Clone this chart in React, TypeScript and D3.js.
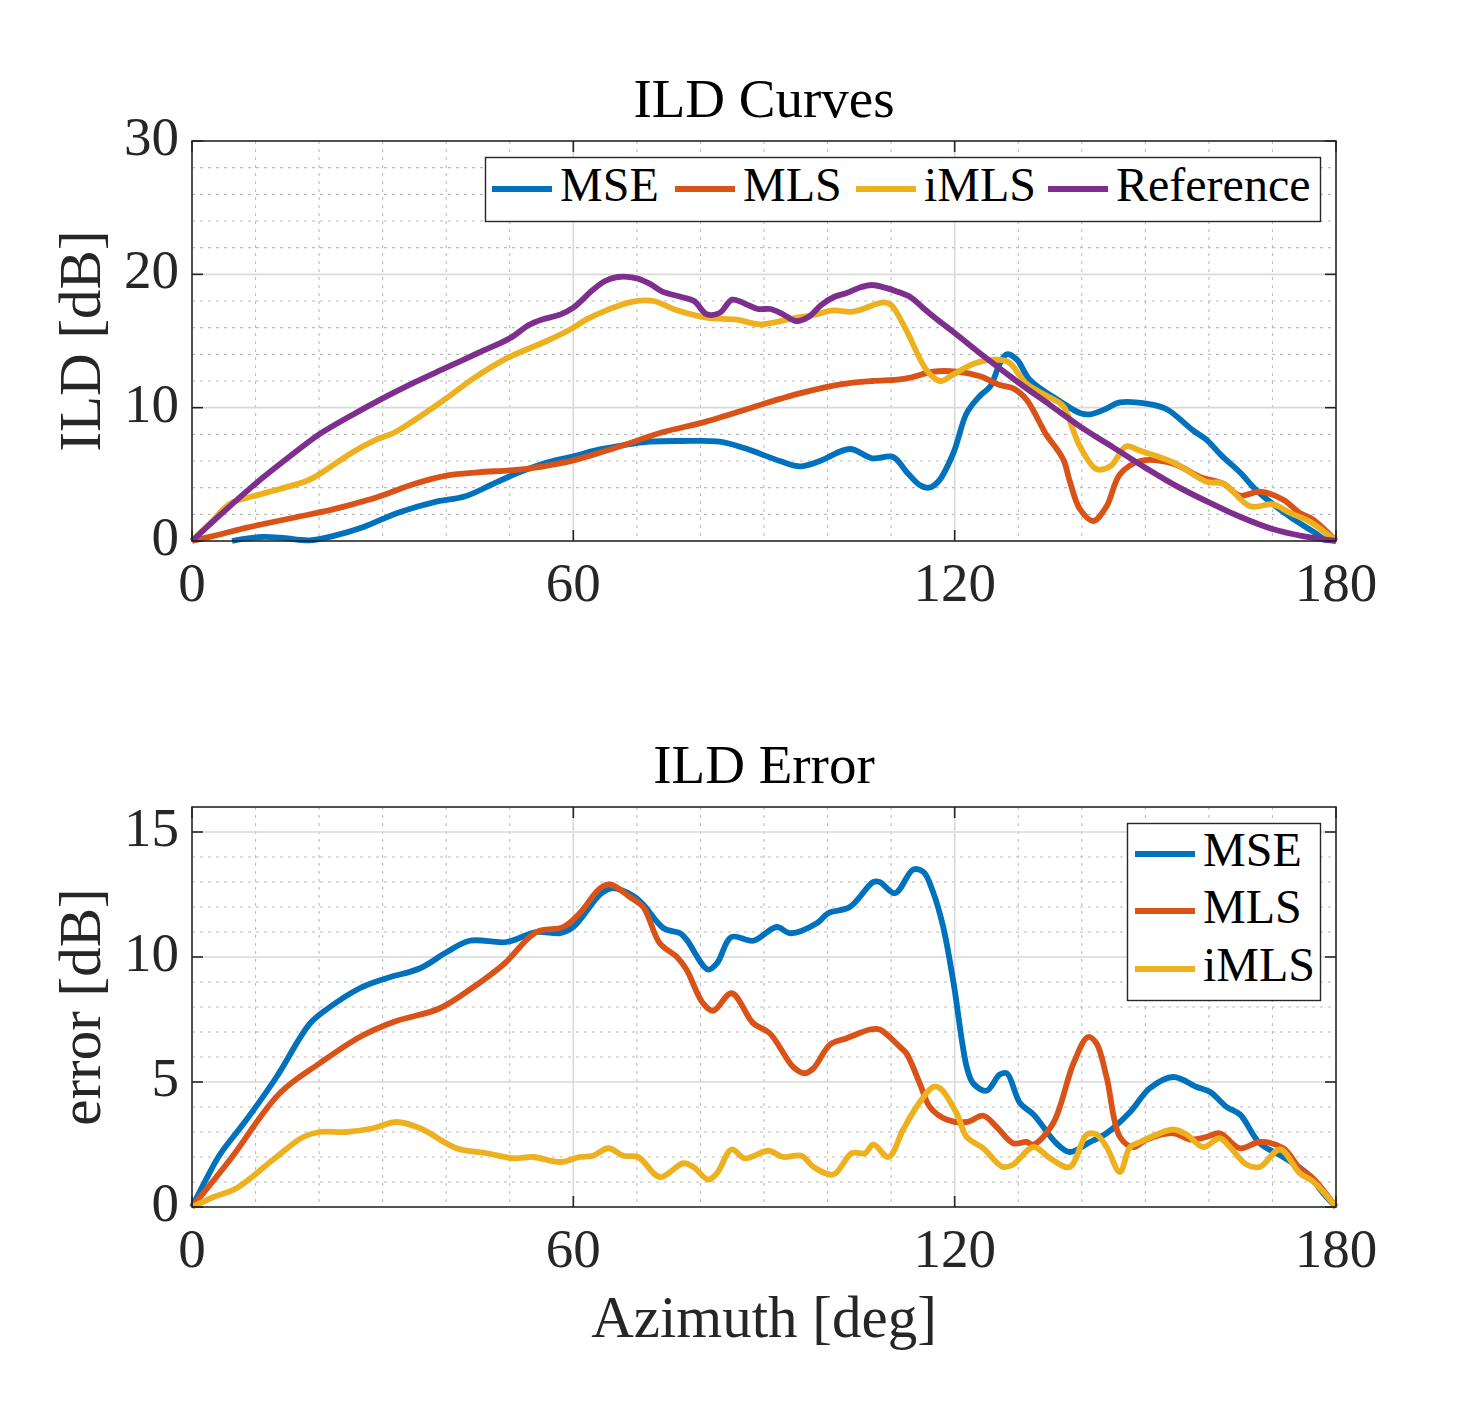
import React from 'react';
import * as d3 from 'd3';

type Pt = [number, number];

// ---------- data ----------
const seriesNames = ['MSE', 'MLS', 'iMLS', 'Reference'];
const seriesColors = ['#0072BD', '#D95319', '#EDB120', '#7E2F8E'];

const xTicks = [0, 60, 120, 180];
const ildTicks = [0, 10, 20, 30];
const errTicks = [0, 5, 10, 15];

const ildMSE: Pt[] = [
  [6.3, 0], [8, 0.15], [11, 0.3], [14, 0.25], [18.5, 0.05], [22, 0.35], [27, 1.05], [32, 2.05],
  [38, 2.9], [43, 3.35], [47, 4.2], [51, 5.05], [56, 5.9], [60, 6.35], [64, 6.85], [68, 7.2],
  [72, 7.45], [77, 7.5], [83, 7.45], [87, 6.95], [92.5, 6.0], [95.7, 5.6], [98.8, 6.0],
  [103.5, 6.9], [107, 6.2], [110.3, 6.3], [112.4, 5.2], [114.5, 4.2], [116, 4.0], [117.5, 4.5],
  [119.8, 6.6], [121.9, 9.6], [124, 10.9], [125.6, 11.6], [127.1, 13.3], [128.2, 14.0],
  [129.8, 13.6], [131.8, 12.1], [136.5, 10.5], [139.7, 9.6], [141.3, 9.5], [143.5, 9.85],
  [146, 10.4], [150.2, 10.3], [153.3, 9.9], [157.5, 8.3], [159.6, 7.6], [162, 6.4], [165, 5.1],
  [167.5, 3.8], [172.8, 1.8], [176.4, 0.7], [178.5, 0],
];

const ildMLS: Pt[] = [
  [0, 0], [4, 0.45], [8.6, 1.0], [12, 1.35], [16.5, 1.8], [22, 2.35], [27.5, 3.05], [31, 3.6],
  [34.8, 4.25], [40, 4.9], [45, 5.15], [50, 5.3], [53.2, 5.45], [57, 5.75], [60, 6.05],
  [64, 6.6], [68, 7.2], [74, 8.15], [80.5, 8.9], [85, 9.55], [90, 10.3], [96.7, 11.2],
  [102, 11.75], [107, 12.0], [111, 12.1], [113, 12.25], [116.6, 12.7], [120.3, 12.7],
  [124, 12.35], [127.1, 11.7], [129.2, 11.45], [131.3, 10.6], [134.5, 7.9], [136, 6.95],
  [137.2, 6.0], [138.1, 4.5], [139.7, 2.4], [141.8, 1.5], [143.9, 2.6], [146, 5.0],
  [149.2, 6.0], [154.4, 5.8], [158.6, 4.8], [162.3, 4.3], [164.9, 3.4], [168, 3.7],
  [171.7, 3.1], [174.3, 2.1], [176.4, 1.6], [180, 0],
];

const ildIMLS: Pt[] = [
  [0, 0], [3, 1.4], [6, 2.8], [9.6, 3.35], [13.8, 3.9], [18, 4.5], [20, 5.0], [25.4, 6.7],
  [29, 7.6], [31.7, 8.1], [34.8, 9.0], [40, 10.7], [44.3, 12.2], [49.5, 13.7], [55.8, 15.0],
  [60, 16.0], [62, 16.6], [65.2, 17.3], [69.4, 17.95], [72.6, 18.0], [76.3, 17.3], [81, 16.75],
  [85.7, 16.6], [89.4, 16.25], [94.6, 16.7], [97.8, 16.95], [100.9, 17.3], [104, 17.2],
  [108.8, 17.9], [110, 17.7], [112.4, 15.8], [115.6, 12.8], [117.7, 12.0], [119.8, 12.5],
  [123, 13.3], [126.6, 13.6], [128.5, 13.4], [131.3, 11.8], [134, 11.0], [137.1, 10.1],
  [138.5, 8.5], [139.7, 7.1], [142.3, 5.4], [144.5, 5.6], [147, 7.1], [149, 6.8],
  [154.4, 5.9], [159.6, 4.45], [162.3, 4.3], [166.5, 2.6], [170.1, 2.75], [172.8, 2.1],
  [175.9, 1.45], [180, 0],
];

const ildReference: Pt[] = [
  [0, 0], [5, 2.2], [10, 4.3], [15, 6.2], [20, 8.0], [25, 9.4], [30, 10.7], [35, 11.9],
  [40, 13.0], [45, 14.1], [50, 15.2], [53, 16.2], [55, 16.6], [58, 17.0], [60, 17.5],
  [63, 18.8], [65, 19.5], [67, 19.8], [70, 19.7], [72, 19.3], [74, 18.7], [77, 18.3],
  [79, 18.0], [81, 17.0], [83, 17.1], [85, 18.1], [87, 17.8], [89, 17.4], [91, 17.4],
  [93, 17.0], [95, 16.5], [97, 16.8], [99, 17.7], [101, 18.3], [103, 18.6], [105, 19.0],
  [107, 19.2], [109, 19.0], [111, 18.7], [113, 18.3], [115, 17.5], [117, 16.7], [120, 15.6],
  [125, 13.7], [130, 11.9], [135, 10.2], [140, 8.5], [145, 7.0], [150, 5.5], [155, 4.1],
  [160, 2.9], [165, 1.8], [170, 0.9], [175, 0.35], [180, 0],
];

const errMSE: Pt[] = [
  [0, 0], [2, 1.0], [4.4, 2.1], [8.6, 3.5], [13.3, 5.2], [18.6, 7.35], [21.7, 8.0],
  [26.4, 8.75], [30.6, 9.15], [35.9, 9.55], [40.1, 10.2], [43.7, 10.65], [49.5, 10.6],
  [54.2, 11.0], [57.9, 10.95], [60, 11.2], [64.2, 12.5], [66, 12.75], [69.4, 12.45],
  [71, 12.1], [74.2, 11.15], [76.8, 10.95], [77.8, 10.7], [81.2, 9.5], [82.6, 9.75],
  [84.9, 10.8], [88.3, 10.65], [92, 11.2], [94.1, 10.95], [98.3, 11.35], [100.1, 11.75],
  [103.5, 12.0], [107.2, 13.0], [108.2, 13.0], [110.6, 12.55], [113.5, 13.5], [115.1, 13.4],
  [116.6, 12.6], [118.2, 11.2], [119.8, 9.0], [121.9, 5.6], [122.9, 4.95], [125, 4.65],
  [127.1, 5.3], [128.2, 5.35], [130.3, 4.15], [132.4, 3.7], [136, 2.55], [138.1, 2.2],
  [141.3, 2.6], [143.9, 2.95], [147.6, 3.8], [150.7, 4.75], [154.4, 5.2], [158.1, 4.8],
  [160.2, 4.6], [162.8, 4.0], [164.9, 3.7], [168, 2.55], [171.7, 2.0], [175.4, 1.35],
  [178, 0.55], [180, 0],
];

const errMLS: Pt[] = [
  [0, 0], [6, 1.9], [13.8, 4.55], [20.1, 5.75], [26.4, 6.8], [31.7, 7.4], [39, 7.95],
  [44.3, 8.8], [49, 9.7], [54.2, 11.0], [58.4, 11.2], [61, 11.75], [64.2, 12.75], [65.8, 12.9],
  [68.9, 12.4], [71, 12.0], [73.6, 10.55], [76.3, 10.0], [77.8, 9.5], [80.4, 8.15], [82, 7.85],
  [84.9, 8.55], [88.3, 7.35], [90.9, 6.95], [94.6, 5.6], [96.4, 5.35], [97.8, 5.55],
  [100.4, 6.5], [103, 6.75], [106.7, 7.1], [108.2, 7.1], [111.4, 6.4], [112.4, 6.15],
  [114.5, 4.95], [116.1, 4.0], [118.7, 3.5], [121.9, 3.4], [124.5, 3.65], [126.6, 3.2],
  [129.2, 2.55], [131.3, 2.6], [132.4, 2.5], [135.5, 3.35], [138.7, 5.75], [141, 6.8],
  [142.3, 6.55], [143.9, 5.2], [146, 2.8], [148.1, 2.4], [150.2, 2.7], [154.4, 2.95],
  [157, 2.7], [159.6, 2.8], [161.7, 2.95], [164.9, 2.35], [168, 2.6], [171.7, 2.35],
  [174.3, 1.55], [176.4, 1.15], [180, 0],
];

const errIMLS: Pt[] = [
  [0, 0], [3.4, 0.4], [7, 0.75], [12.8, 1.9], [17.5, 2.8], [20.1, 3.0], [24.3, 3.0],
  [28.5, 3.15], [32.2, 3.4], [35.9, 3.15], [41.6, 2.35], [46.4, 2.15], [50.6, 1.95],
  [53.7, 2.0], [57.9, 1.8], [61, 2.0], [63.1, 2.05], [65.5, 2.35], [67.9, 2.05], [70.2, 2.0],
  [73.6, 1.2], [77.3, 1.75], [78.9, 1.6], [81.2, 1.1], [82.6, 1.35], [84.9, 2.3], [87, 1.95],
  [90.7, 2.25], [93, 2.0], [95.9, 2.05], [97.8, 1.6], [100.9, 1.3], [103.8, 2.15],
  [105.9, 2.15], [107.2, 2.5], [109.6, 2.0], [111.9, 3.1], [114, 4.0], [116.6, 4.8],
  [117.7, 4.75], [120.3, 3.75], [121.9, 2.8], [124.5, 2.35], [127.6, 1.6], [129.2, 1.7],
  [132.4, 2.4], [135, 1.95], [138.1, 1.6], [140.8, 2.9], [142.3, 2.9], [143.9, 2.4],
  [146, 1.4], [147.6, 2.4], [149.2, 2.6], [151.8, 2.9], [154.4, 3.1], [156.5, 2.9],
  [159.1, 2.4], [161.7, 2.75], [163.3, 2.4], [165.9, 1.7], [168, 1.6], [171.2, 2.3],
  [174.3, 1.35], [176.5, 1.0], [180, 0],
];

// ---------- layout ----------
const W = 1476;
const H = 1406;
const PL = 192;
const PR = 1336;
const PH = 400;
const TOP1 = 141;
const TOP2 = 807;
const FONT = '"Liberation Serif", "Times New Roman", serif';
const AX = '#262626';
const LW = 5.8;

type LegendItem = { name: string; color: string; x: number; y: number };
type PanelProps = {
  top: number;
  yMax: number;
  yTicks: number[];
  yMinor: number;
  series: { data: Pt[]; color: string }[];
  title: string;
  yLabel: string;
  xLabel?: string;
  legendBox: { x: number; y: number; w: number; h: number };
  legendItems: LegendItem[];
};

function Panel(p: PanelProps) {
  const x = d3.scaleLinear().domain([0, 180]).range([PL, PR]);
  const y = d3.scaleLinear().domain([0, p.yMax]).range([p.top + PH, p.top]);
  const line = d3
    .line<Pt>()
    .x((d) => x(d[0]))
    .y((d) => y(d[1]))
    .curve(d3.curveCatmullRom.alpha(0.5));

  const xMinor = d3.range(10, 180, 10).filter((v) => v % 60 !== 0);
  const yMinor = d3.range(p.yMinor, p.yMax, p.yMinor).filter((v) => !p.yTicks.includes(Math.round(v * 100) / 100));
  const xMajorGrid = xTicks.filter((v) => v > 0 && v < 180);
  const yMajorGrid = p.yTicks.filter((v) => v > 0 && v < p.yMax);
  const bottom = p.top + PH;
  const tickLen = 11;

  return (
    <g>
      {/* minor grid */}
      {xMinor.map((v) => (
        <line key={'xm' + v} x1={x(v)} x2={x(v)} y1={p.top} y2={bottom} stroke="#bcbcbc" strokeWidth={1.1} strokeDasharray="3 5" />
      ))}
      {yMinor.map((v) => (
        <line key={'ym' + v} x1={PL} x2={PR} y1={y(v)} y2={y(v)} stroke="#bcbcbc" strokeWidth={1.1} strokeDasharray="3 5" />
      ))}
      {/* major grid */}
      {xMajorGrid.map((v) => (
        <line key={'xg' + v} x1={x(v)} x2={x(v)} y1={p.top} y2={bottom} stroke="#d9d9d9" strokeWidth={1.6} />
      ))}
      {yMajorGrid.map((v) => (
        <line key={'yg' + v} x1={PL} x2={PR} y1={y(v)} y2={y(v)} stroke="#d9d9d9" strokeWidth={1.6} />
      ))}
      {/* data */}
      {p.series.map((s, i) => (
        <path key={'s' + i} d={line(s.data) || ''} fill="none" stroke={s.color} strokeWidth={LW} strokeLinejoin="round" strokeLinecap="butt" />
      ))}
      {/* box & ticks */}
      <rect x={PL} y={p.top} width={PR - PL} height={PH} fill="none" stroke={AX} strokeWidth={1.6} />
      {xTicks.map((v) => (
        <g key={'xt' + v}>
          <line x1={x(v)} x2={x(v)} y1={bottom} y2={bottom - tickLen} stroke={AX} strokeWidth={1.6} />
          <line x1={x(v)} x2={x(v)} y1={p.top} y2={p.top + tickLen} stroke={AX} strokeWidth={1.6} />
          <text x={x(v)} y={bottom + 60} textAnchor="middle" fontFamily={FONT} fontSize={55} fill={AX}>
            {v}
          </text>
        </g>
      ))}
      {p.yTicks.map((v) => (
        <g key={'yt' + v}>
          <line x1={PL} x2={PL + tickLen} y1={y(v)} y2={y(v)} stroke={AX} strokeWidth={1.6} />
          <line x1={PR} x2={PR - tickLen} y1={y(v)} y2={y(v)} stroke={AX} strokeWidth={1.6} />
          <text x={179} y={y(v) + 14} textAnchor="end" fontFamily={FONT} fontSize={55} fill={AX}>
            {v}
          </text>
        </g>
      ))}
      {/* title & labels */}
      <text x={(PL + PR) / 2} y={p.top - 24} textAnchor="middle" fontFamily={FONT} fontSize={55} fill="#000">
        {p.title}
      </text>
      <text
        transform={`translate(100, ${p.top + PH / 2}) rotate(-90)`}
        textAnchor="middle"
        fontFamily={FONT}
        fontSize={59}
        fill={AX}
      >
        {p.yLabel}
      </text>
      {p.xLabel && (
        <text x={(PL + PR) / 2} y={bottom + 130} textAnchor="middle" fontFamily={FONT} fontSize={59} fill={AX}>
          {p.xLabel}
        </text>
      )}
      {/* legend */}
      <rect x={p.legendBox.x} y={p.legendBox.y} width={p.legendBox.w} height={p.legendBox.h} fill="#fff" stroke={AX} strokeWidth={1.4} />
      {p.legendItems.map((it) => (
        <g key={'lg' + it.name}>
          <line x1={it.x} x2={it.x + 60} y1={it.y} y2={it.y} stroke={it.color} strokeWidth={LW} />
          <text x={it.x + 68} y={it.y + 12} fontFamily={FONT} fontSize={48} fill="#000">
            {it.name}
          </text>
        </g>
      ))}
    </g>
  );
}

export default function App() {
  const topSeries = [ildMSE, ildMLS, ildIMLS, ildReference].map((d, i) => ({ data: d, color: seriesColors[i] }));
  const botSeries = [errMSE, errMLS, errIMLS].map((d, i) => ({ data: d, color: seriesColors[i] }));
  const topLegendX = [492, 675, 856, 1048];
  const botLegendY = [854, 911, 969];
  return (
    <svg width={W} height={H} style={{ position: 'absolute', left: 0, top: 0, background: '#fff' }}>
      <rect x={0} y={0} width={W} height={H} fill="#fff" />
      <Panel
        top={TOP1}
        yMax={30}
        yTicks={ildTicks}
        yMinor={2}
        series={topSeries}
        title="ILD Curves"
        yLabel="ILD [dB]"
        legendBox={{ x: 485.5, y: 157.5, w: 835, h: 64 }}
        legendItems={seriesNames.map((n, i) => ({ name: n, color: seriesColors[i], x: topLegendX[i], y: 189 }))}
      />
      <Panel
        top={TOP2}
        yMax={16}
        yTicks={errTicks}
        yMinor={1}
        series={botSeries}
        title="ILD Error"
        yLabel="error [dB]"
        xLabel="Azimuth [deg]"
        legendBox={{ x: 1127.5, y: 823.5, w: 193, h: 177 }}
        legendItems={seriesNames.slice(0, 3).map((n, i) => ({ name: n, color: seriesColors[i], x: 1135, y: botLegendY[i] }))}
      />
    </svg>
  );
}
